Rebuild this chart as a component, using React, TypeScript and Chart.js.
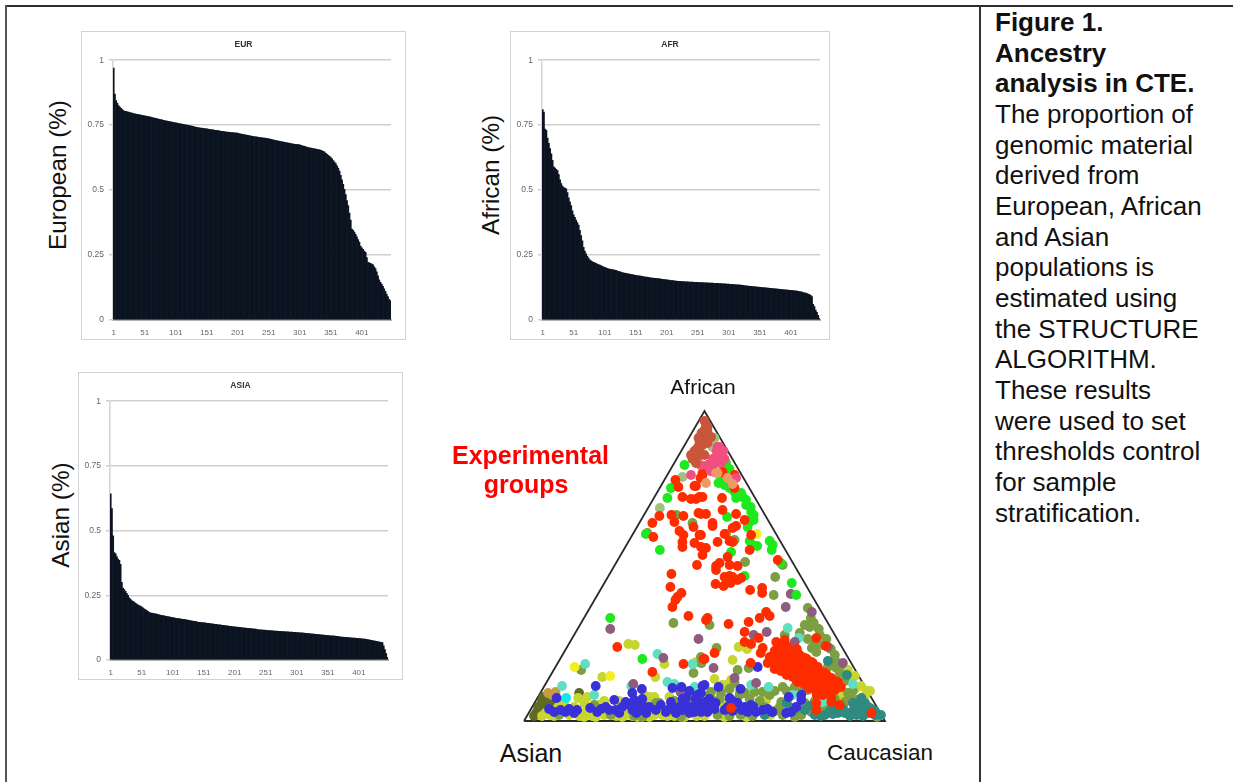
import React, { useEffect, useRef } from "react";
import { Chart, registerables } from "chart.js";

Chart.register(...registerables);

const yTickLabels = ["0", "0.25", "0.5", "0.75", "1"];
const xTickLabels = ["1", "51", "101", "151", "201", "251", "301", "351", "401"];

// every second individual, ranked
const eurValues = [
  .97,.87,.845,.835,.825,.82,.815,.81,.806,.803,
  .803,.801,.8,.798,.797,.796,.795,.794,.793,.792,
  .791,.79,.789,.788,.787,.786,.785,.784,.783,.782,
  .781,.779,.778,.777,.776,.775,.773,.772,.771,.77,
  .769,.768,.767,.766,.765,.764,.763,.762,.761,.76,
  .759,.758,.757,.756,.755,.754,.753,.752,.751,.75,
  .749,.748,.747,.746,.745,.744,.743,.742,.741,.74,
  .739,.739,.738,.737,.737,.736,.735,.734,.733,.733,
  .732,.731,.73,.73,.729,.728,.727,.726,.726,.725,
  .724,.723,.723,.722,.722,.721,.721,.72,.72,.719,
  .719,.718,.717,.716,.715,.714,.713,.712,.711,.71,
  .709,.708,.707,.706,.705,.705,.704,.703,.702,.702,
  .701,.7,.7,.699,.698,.697,.696,.695,.694,.693,
  .692,.691,.69,.689,.688,.687,.686,.685,.684,.683,
  .682,.681,.68,.679,.678,.677,.676,.676,.675,.675,
  .674,.672,.67,.669,.668,.667,.665,.664,.663,.662,
  .661,.66,.659,.658,.657,.656,.655,.653,.651,.649,
  .646,.642,.638,.634,.63,.625,.62,.614,.608,.602,
  .593,.585,.573,.557,.54,.522,.503,.483,.46,.44,
  .412,.385,.35,.345,.338,.33,.32,.31,.3,.285,
  .278,.272,.265,.26,.24,.222,.22,.218,.215,.212,
  .205,.198,.185,.17,.155,.145,.138,.13,.12,.11,
  .1,.09,.08,.075,
];
const afrValues = [
  .81,.8,.735,.73,.7,.68,.66,.64,.615,.59,
  .585,.58,.575,.56,.54,.525,.515,.51,.508,.505,
  .49,.47,.455,.44,.42,.405,.395,.385,.375,.365,
  .345,.325,.305,.28,.265,.255,.245,.238,.232,.228,
  .225,.222,.22,.218,.215,.213,.211,.209,.207,.205,
  .203,.201,.199,.197,.196,.195,.194,.193,.192,.191,
  .189,.187,.186,.184,.183,.182,.181,.18,.179,.178,
  .177,.176,.175,.174,.173,.172,.171,.17,.17,.169,
  .168,.167,.166,.165,.165,.164,.163,.162,.161,.161,
  .16,.16,.159,.159,.158,.158,.157,.157,.156,.156,
  .155,.154,.154,.153,.152,.152,.151,.15,.15,.149,
  .149,.149,.148,.148,.148,.147,.147,.147,.146,.146,
  .146,.146,.145,.145,.145,.145,.144,.144,.144,.144,
  .143,.143,.143,.143,.142,.142,.142,.142,.141,.141,
  .141,.141,.14,.14,.14,.139,.139,.139,.138,.138,
  .138,.137,.137,.137,.136,.136,.135,.135,.135,.134,
  .134,.133,.133,.132,.132,.131,.131,.13,.13,.129,
  .129,.128,.128,.127,.127,.126,.126,.125,.125,.124,
  .124,.123,.123,.122,.122,.121,.121,.12,.12,.119,
  .119,.118,.118,.117,.117,.116,.116,.115,.115,.114,
  .114,.113,.113,.112,.112,.111,.11,.109,.108,.107,
  .106,.105,.104,.102,.1,.098,.095,.09,.06,.052,
  .038,.03,.018,.006,
];
const asiaValues = [
  .642,.585,.48,.415,.41,.4,.39,.385,.37,.3,
  .278,.272,.265,.258,.25,.24,.235,.23,.227,.224,
  .22,.216,.213,.21,.208,.205,.202,.198,.195,.192,
  .188,.184,.182,.181,.18,.179,.178,.177,.176,.175,
  .174,.173,.172,.171,.17,.169,.168,.167,.166,.165,
  .164,.163,.162,.161,.16,.16,.159,.158,.157,.157,
  .156,.155,.154,.153,.152,.151,.15,.149,.149,.148,
  .147,.146,.146,.145,.145,.144,.144,.143,.142,.142,
  .141,.14,.14,.139,.138,.138,.137,.136,.136,.135,
  .134,.134,.133,.132,.132,.131,.13,.13,.129,.128,
  .128,.127,.127,.126,.126,.125,.124,.124,.123,.123,
  .122,.122,.121,.121,.12,.12,.119,.119,.118,.118,
  .117,.117,.116,.116,.116,.115,.115,.114,.114,.114,
  .113,.113,.112,.112,.112,.111,.111,.111,.11,.11,
  .11,.109,.109,.109,.108,.108,.108,.107,.107,.107,
  .106,.106,.105,.105,.105,.104,.104,.103,.103,.102,
  .102,.101,.101,.1,.1,.099,.099,.098,.098,.097,
  .097,.096,.096,.095,.095,.094,.094,.093,.093,.093,
  .092,.092,.091,.091,.09,.09,.089,.089,.088,.088,
  .088,.087,.087,.086,.086,.085,.085,.085,.084,.084,
  .083,.083,.082,.082,.081,.081,.08,.079,.078,.077,
  .076,.075,.074,.073,.072,.071,.07,.069,.068,.067,
  .055,.04,.025,.01,
];

// ternary plane: base 0..360 (Asian to Caucasian), apex at 310 (African)
const trianglePts = [[0,0],[360,0],[180,310],[0,0]];
const oliveDarkPts = [[15,11],[20,18],[16.5,6],[25,23],[55,28],[12,8],[22,14],[19,24],[10,5],[14,14],[24,16],[18,20],[30,20],[27,12]];
const orangeBrownPts = [[31.5,29],[28,26],[24,28]];
const yellowPts = [[50.5,54],[86,45],[232,187]];
const yellowGreenPts = [[104,77],[110.5,76],[140,57],[78,44],[131,44],[171.5,59],[54,23],[63,24],[120,26],[125,24],[21.5,8],[45,6],[61.5,8],[66.5,11],[60,4],[71.5,4],[101.5,6],[108,5],[125,4],[50,14],[63,14],[75,16],[121.5,19],[165,19],[138,6],[30,5],[38,14],[80,6],[92,5],[150,5],[172,5],[214,74],[222.5,72],[208,61],[323,51],[320,28],[315,26],[206.5,41],[201.5,36],[226.5,31],[241.5,21],[198,18],[212,11],[330,32],[342,30],[305,30],[246,6],[18,5],[26,6],[34,14],[55,5],[68,5],[84,9],[98,4],[113,4],[130,6],[143,5],[160,4],[180,5],[200,4],[222,4],[40,18],[60,18],[80,20],[95,20],[130,24],[145,24],[160,26],[190,42],[215,30],[198,36],[306,14],[330,45],[326,40],[336,35],[340,25],[345,30]];
const olivePts = [[123,188],[152,206],[168,198],[201.5,187],[210,181],[220.5,159],[258,156],[57,51],[149,98],[169,48],[177,58],[176.5,64],[86.5,6],[118,4],[70,16],[35,6],[131.5,18],[156.5,4],[250.5,144],[249,126],[185,96],[192,73],[176.5,58],[213,51],[224,53],[283,113],[289,98],[285,94],[260,86],[283,82],[290,76],[295,86],[301.5,82],[291.5,69],[310,66],[311.5,59],[311.5,53],[315,48],[303,54],[287,73],[275,88],[210,38],[186.5,29],[196.5,28],[220,28],[230,29],[238,29],[258,34],[256.5,19],[255,14],[283,31],[296.5,11],[286.5,9],[301.5,9],[193,6],[216,6],[276.5,6],[323,28],[325,23],[331.5,21],[320,19],[307,30],[228,5],[352,4],[292,25],[270,4],[205,5],[188,20],[241,8],[110,5],[135,18],[150,20],[168,24],[185,26],[195,22],[205,32],[215,26],[225,22],[235,20],[245,26],[250,30],[262,30],[270,34],[278,30],[240,14],[250,10],[258,6],[265,14],[280,18],[290,20],[300,16],[310,22],[318,14],[328,30],[315,36],[320,40],[298,76],[306,72],[294,92],[280,96],[286,103],[305,58],[316,56]];
const paleGreenPts = [[135.5,213],[158,244],[188,274],[190,283]];
const tealPts = [[303,60],[322,46],[336.5,23],[340,18],[330,14],[336.5,11],[343,8],[326.5,9],[320,8],[313,8],[308,7],[350,6],[331.5,6],[280,11],[248,9],[334,18],[345,13],[325,5],[338,5],[348,11],[300,6],[262,18],[318,12],[328,18],[335,8],[342,15],[350,10],[356,6],[310,12],[305,10],[296,5],[290,6],[285,15],[270,12],[240,6]];
const turquoisePts = [[61,57],[133,67],[38,35],[107,35],[143,39],[150,37],[170,34],[168,57],[70,26],[263,93],[274,83],[328,37],[226.5,36],[244,34],[298,19],[268,26]];
const mauvePts = [[86,92],[139,63],[174,82],[109,37],[156,29],[266,127],[261,114],[287,109],[242,89],[229,86],[189,53],[270,79],[303,74],[318,58],[281.5,33],[231.5,38],[210,43]];
const cyanPts = [[42,23]];
const bluePts = [[71.5,35],[32.5,23],[117.5,32],[148,33],[157,34],[178,35],[108,28],[110,21],[90,21],[101.5,19],[161.5,23],[173,26],[146.5,19],[25,12],[30,9],[36.5,11],[41.5,9],[50,8],[53,11],[73,9],[81.5,14],[85,11],[91.5,11],[98,14],[108,11],[115,18],[116.5,11],[125,14],[131.5,11],[136.5,16],[141.5,9],[148,14],[151.5,8],[158,11],[165,8],[168,14],[175,18],[176.5,9],[180,19],[180,36],[194,34],[216,32],[233,54],[176.5,28],[180,18],[186.5,14],[183,9],[178,11],[200,11],[205,23],[213,18],[220,14],[226.5,16],[223,9],[231.5,9],[238,11],[247.5,9],[264,24],[276.5,26],[276.5,21],[271.5,14],[261.5,8],[266.5,9],[122,8],[112,15],[171,22],[191,18],[208,10],[45,12],[66,13],[77,12],[95,8],[112,8],[120,14],[145,12],[155,14],[162,16],[170,9],[172,12],[185,22],[190,12],[203,14],[208,20],[217,11],[229,14],[243,12],[158,22],[105,16],[118,22],[165,30]];
const greenPts = [[160,256],[146.5,233],[143,223],[135.5,171],[121.5,187],[201.5,258],[196.5,241],[200,236],[208,234],[205,233],[206.5,234],[216.5,228],[211.5,223],[218,224],[221.5,221],[221.5,216],[226.5,209],[229,201],[225,199],[223,194],[225,180],[232.5,175],[245,180],[247,171],[202.5,204],[206.5,169],[256,158],[86,103],[118,62],[267,138],[271.5,126],[220,145],[205,252],[198,250],[194,238],[204,242],[210,229],[214,226],[226,214],[229,206],[223,200],[228,176],[248,176]];
const redPts = [[151,241],[154,234],[158,224],[170,235],[166.5,222],[171.5,222],[175,224],[135,205],[147,206],[150,199],[159,205],[174,208],[128,198],[129,184],[155,190],[159,186],[158,179],[158,174],[170,178],[175,186],[169,194],[172.5,156],[176.5,174],[178,246],[190,249],[198,249],[210,246],[210,233],[178,224],[197.5,223],[198,211],[211.5,207],[181.5,207],[176.5,207],[188,198],[188,195],[220,201],[211.5,195],[208,193],[176.5,186],[193,179],[200,187],[205,180],[208,179],[225,171],[181.5,173],[178,166],[203,164],[195,158],[191.5,155],[205,156],[213,155],[253,161],[226.5,186],[178,248],[176,243],[171.5,235],[147,147],[146,134],[157,128],[153,124],[151,121],[148,114],[164,105],[181.5,101],[93,74],[128,49],[159,57],[179,62],[191.5,151],[191,137],[200,144],[205,145],[208,144],[199,135],[206,138],[216.5,143],[213,141],[225.5,131],[237.5,133],[237.5,128],[241.5,109],[245,105],[183,103],[204,97],[224,99],[235,103],[220,89],[234,83],[220,79],[226.5,77],[238,73],[236,68],[190,68],[180,62],[226,58],[246.5,61],[251.5,71],[251.5,54],[260,73],[260,64],[260,56],[266.5,69],[266.5,61],[266.5,51],[273,68],[273,58],[273,48],[273,39],[280,63],[280,54],[280,44],[286.5,59],[286.5,51],[286.5,41],[293,54],[293,46],[293,36],[291.5,29],[300,48],[300,39],[300,33],[306.5,43],[306.5,36],[313,39],[313,34],[291.5,83],[301,75],[260,81],[251.5,79],[255,65],[263,67],[270,60],[277,50],[283,48],[290,40],[296,42],[303,41],[306.5,23],[306.5,19],[291.5,18],[291.5,11],[315,16],[206.5,13],[346.5,8],[255,76],[262,75],[250,70],[256,70],[264,72],[272,72],[245,64],[251,64],[257,62],[276,65],[282,62],[243,58],[249,58],[255,58],[262,58],[268,56],[275,56],[282,58],[288,58],[250,52],[256,50],[262,50],[269,46],[275,52],[282,52],[289,50],[295,50],[262,46],[268,44],[276,43],[284,40],[290,46],[298,46],[302,46],[272,40],[278,38],[285,36],[296,36],[304,38],[310,40],[284,33],[290,33],[297,30],[303,32],[310,31],[316,34],[292,26],[298,26],[304,28]];
const orangePts = [[191.5,248],[203,243],[181.5,238],[193,248],[208,237],[172.5,263]];
const pinkPts = [[195,274],[196.5,266],[191.5,263],[183,256],[196.5,258],[166.5,246],[211.5,243],[193,274],[186.5,258],[191.5,258],[200,262],[188,262],[192,270],[199,270],[176,256],[186,250]];
const brickPts = [[181.5,296],[180,291],[183,289],[178,284],[181.5,283],[185,283],[175,278],[178,276],[183,278],[173,273],[166.5,266],[171.5,258],[180,266],[186.5,284],[176,266],[180,300],[183,294],[177,288],[174,283],[170,270],[168,262],[175,272]];

// bottom layer first
const scatterGroups: [string, number[][]][] = [
  ["#5f6a22", oliveDarkPts],
  ["#c99a45", orangeBrownPts],
  ["#c6d62f", yellowGreenPts],
  ["#7d9f42", olivePts],
  ["#2f8a80", tealPts],
  ["#a0c080", paleGreenPts],
  ["#60dfc0", turquoisePts],
  ["#8d5c7e", mauvePts],
  ["#f3ee24", yellowPts],
  ["#12e6f2", cyanPts],
  ["#3a30d8", bluePts],
  ["#1ee81e", greenPts],
  ["#ff2c00", redPts],
  ["#f0507f", pinkPts],
  ["#ec9a68", orangePts],
  ["#c9563a", brickPts],
];

const rankLabels = eurValues.map((_, i) => String(i * 2 + 1));

const textFont = '"Liberation Sans", Arial, sans-serif';

// centres the title on the whole panel instead of the padded area
const panelTitlePlugin = {
  id: "panelTitle",
  afterLayout(chart: any) {
    const t = chart.titleBlock;
    if (t) { t.left = 0; t.right = chart.width; t.width = chart.width; }
  },
};

function barConfig(title: string, values: number[], rightPad: number): any {
  return {
    type: "bar",
    plugins: [panelTitlePlugin],
    data: {
      labels: rankLabels,
      datasets: [{ label: title, data: values, backgroundColor: "#0b1420", borderWidth: 0, barPercentage: 1, categoryPercentage: 1 }],
    },
    options: {
      animation: false,
      responsive: false,
      layout: { padding: { left: 0, right: rightPad, top: 0, bottom: 0 } },
      plugins: {
        legend: { display: false },
        tooltip: { enabled: false },
        title: {
          display: true, text: title, color: "#333",
          font: { family: textFont, size: 8.5, weight: "bold" },
          padding: { top: 8, bottom: 10 },
        },
      },
      scales: {
        x: {
          afterFit: (s: any) => { s.height = 19; },
          grid: { display: false },
          border: { display: true, color: "#b0b0b0", width: 2 },
          ticks: {
            autoSkip: false, maxRotation: 0, minRotation: 0, padding: 0, color: "#666",
            font: { family: textFont, size: 8 },
            callback: (_: any, i: number) => (i % 25 === 0 ? xTickLabels[i / 25] : ""),
          },
        },
        y: {
          min: 0, max: 1,
          afterFit: (s: any) => { s.width = 31; },
          grid: { color: "#cfcfcf", lineWidth: 1.5, tickLength: 4 },
          border: { color: "#d4d4d4", width: 1.5 },
          ticks: {
            stepSize: 0.25, padding: 5, color: "#666",
            font: { family: textFont, size: 8.5 },
            callback: (_: any, i: number) => yTickLabels[i],
          },
        },
      },
    },
  };
}

function ternaryConfig(): any {
  const dots = scatterGroups.map(([color, pts]) => ({
    type: "scatter",
    data: pts.map(([x, y]) => ({ x, y })),
    backgroundColor: color,
    borderWidth: 0,
    pointRadius: 4.9,
    clip: false,
  }));
  const frame = {
    type: "line",
    data: trianglePts.map(([x, y]) => ({ x, y })),
    borderColor: "#2a2a2a",
    borderWidth: 1.8,
    pointRadius: 0,
    fill: false,
    tension: 0,
    clip: false,
  };
  return {
    type: "scatter",
    // Chart.js paints the first dataset last
    data: { datasets: [...dots].reverse().concat([frame as any]) },
    options: {
      animation: false,
      responsive: false,
      layout: { padding: { left: 20, right: 20, top: 10, bottom: 10 } },
      plugins: { legend: { display: false }, tooltip: { enabled: false } },
      scales: {
        x: { type: "linear", min: 0, max: 360, display: false },
        y: { type: "linear", min: 0, max: 312, display: false },
      },
    },
  };
}

function ChartBox({ config, left, top, width, height, border }: any) {
  const ref = useRef<HTMLCanvasElement>(null);
  useEffect(() => {
    const chart = new Chart(ref.current as HTMLCanvasElement, config);
    return () => chart.destroy();
  }, []);
  return (
    <canvas
      ref={ref}
      width={width}
      height={height}
      style={{
        position: "absolute", left, top, width, height, display: "block",
        boxSizing: "content-box",
        outline: border ? "1px solid #d2d2d2" : "none",
        filter: "blur(0.45px)",
      }}
    />
  );
}

function VerticalLabel({ text, x, y }: { text: string; x: number; y: number }) {
  return (
    <span style={{
      position: "absolute", left: x, top: y, transform: "translate(-50%,-50%) rotate(-90deg)",
      whiteSpace: "nowrap", font: `24.3px ${textFont}`, color: "#111",
    }}>{text}</span>
  );
}

function Label({ text, x, y, size, color = "#111", bold = false }: any) {
  return (
    <span style={{
      position: "absolute", left: x, top: y, transform: "translate(-50%,-50%)",
      whiteSpace: "nowrap", font: `${bold ? "bold " : ""}${size}px ${textFont}`, color,
    }}>{text}</span>
  );
}

const captionBold = ["Figure 1.", "Ancestry", "analysis in CTE."];
const captionPlain = [
  "The proportion of", "genomic material", "derived from", "European, African", "and Asian",
  "populations is", "estimated using", "the STRUCTURE", "ALGORITHM.", "These results",
  "were used to set", "thresholds control", "for sample", "stratification.",
];

export default function App() {
  useEffect(() => {
    document.body.style.margin = "0";
    document.body.style.background = "#fff";
  }, []);
  return (
    <div style={{ position: "absolute", left: 0, top: 0, width: 1233, height: 782, overflow: "hidden", background: "#fff" }}>
      <div style={{ position: "absolute", left: 5, top: 5, width: 1228, height: 2, background: "#2c2c2c" }} />
      <div style={{ position: "absolute", left: 5, top: 5, width: 2, height: 777, background: "#555" }} />
      <div style={{ position: "absolute", left: 979, top: 5, width: 2, height: 777, background: "#333" }} />

      <ChartBox config={barConfig("EUR", eurValues, 14)} left={82} top={32} width={323} height={307} border />
      <ChartBox config={barConfig("AFR", afrValues, 9)} left={511} top={32} width={318} height={307} border />
      <ChartBox config={barConfig("ASIA", asiaValues, 14)} left={79} top={373} width={323} height={306} border />
      <ChartBox config={ternaryConfig()} left={503.5} top={399} width={401} height={332} />

      <VerticalLabel text="European (%)" x={58} y={175} />
      <VerticalLabel text="African (%)" x={491} y={175} />
      <VerticalLabel text="Asian (%)" x={61} y={515} />

      <Label text="African" x={703} y={387} size={21} />
      <Label text="Asian" x={531} y={753} size={25} />
      <Label text="Caucasian" x={880} y={753} size={22.4} />
      <Label text="Experimental" x={530.5} y={455} size={25} color="#ff0000" bold />
      <Label text="groups" x={526} y={484} size={25} color="#ff0000" bold />

      <div style={{ position: "absolute", left: 995, top: 7, font: `26px/30.65px ${textFont}`, color: "#111", whiteSpace: "nowrap" }}>
        {captionBold.map((l) => <div key={l} style={{ fontWeight: "bold" }}>{l}</div>)}
        {captionPlain.map((l) => <div key={l}>{l}</div>)}
      </div>
    </div>
  );
}
